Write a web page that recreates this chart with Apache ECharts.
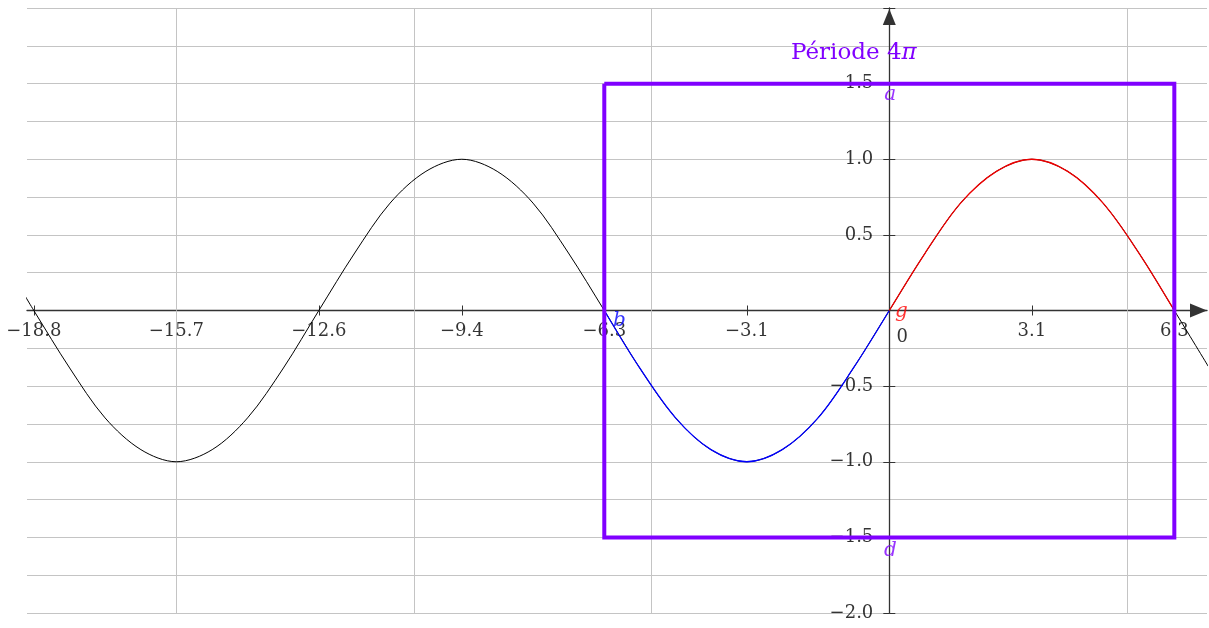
<!DOCTYPE html>
<html>
<head>
<meta charset="utf-8">
<script src="https://cdn.jsdelivr.net/npm/echarts@6/dist/echarts.min.js"></script>
<style>
  html, body { margin: 0; padding: 0; background: #fff; }
  #chart { width: 1209px; height: 628px; }
</style>
</head>
<body>
<div id="chart"></div>
<script>
// curve y = f(x)
var waveX = [-19.03, -18.85, -18.06, -17.28, -16.49, -15.71, -14.92, -14.14, -13.35, -12.57,
  -11.78, -11.00, -10.21, -9.42, -8.64, -7.85, -7.07, -6.28, -5.50, -4.71, -3.93, -3.14,
  -2.36, -1.57, -0.79, 0, 0.79, 1.57, 2.36, 3.14, 3.93, 4.71, 5.50, 6.28, 7.03];
var waveY = [0.09, 0, -0.38, -0.71, -0.92, -1, -0.92, -0.71, -0.38, 0,
  0.38, 0.71, 0.92, 1, 0.92, 0.71, 0.38, 0, -0.38, -0.71, -0.92, -1,
  -0.92, -0.71, -0.38, 0, 0.38, 0.71, 0.92, 1, 0.92, 0.71, 0.38, 0, -0.37];

var xTickValues = [-18.85, -15.71, -12.57, -9.42, -6.28, -3.14, 0, 3.14, 6.28];
var xTickLabels = ['−18.8', '−15.7', '−12.6', '−9.4', '−6.3', '−3.1', '0', '3.1', '6.3'];
var yLabelValues = [-2, -1.5, -1, -0.5, 0.5, 1, 1.5];
var yTickLabels = ['−2.0', '−1.5', '−1.0', '−0.5', '0.5', '1.0', '1.5'];
var gridX = [-15.71, -10.47, -5.24, 5.24];

var rectX = [-6.28, 6.28];
var rectY = [-1.5, 1.5];

var pointNames = ['a', 'd', 'b', 'g'];
var pointX = [0, 0, -6.28, 0];
var pointY = [1.5, -1.5, 0, 0];

var FONT = 'DejaVu Serif';
var VIOLET = '#8000ff';
var AXIS = '#333';
var GRID = '#c4c4c4';
var pointStyle = {
  a: { color: VIOLET, offset: [1, 11] },
  d: { color: VIOLET, offset: [1, 13] },
  b: { color: '#0000ff', offset: [15, 10] },
  g: { color: '#ff0000', offset: [12, 1] }
};

var wave = waveX.map(function (x, i) { return [x, waveY[i]]; });
var blue = wave.filter(function (p) { return p[0] >= rectX[0] && p[0] <= 0; });
var red = wave.filter(function (p) { return p[0] >= 0 && p[0] <= rectX[1]; });
var rect = [
  [rectX[0], rectY[1]], [rectX[1], rectY[1]], [rectX[1], rectY[0]],
  [rectX[0], rectY[0]], [rectX[0], rectY[1]]
];

var tickFont = { fontFamily: FONT, fontSize: 18, color: '#000' };

var option = {
  animation: false,
  backgroundColor: '#fff',
  title: {
    text: 'Période 4{pi|π}',
    left: 786,
    top: 37,
    textStyle: {
      fontFamily: FONT, fontSize: 23, fontWeight: 'normal', color: VIOLET,
      rich: { pi: { fontFamily: FONT, fontSize: 23, fontStyle: 'italic', color: VIOLET } }
    }
  },
  grid: { left: 27, right: 2, top: 8, bottom: 15, outerBoundsMode: 'none' },
  xAxis: [
    {
      type: 'value', min: -19, max: 7, position: 'bottom',
      axisLine: {
        onZero: true, onZeroAxisIndex: 0,
        symbol: ['none', 'triangle'], symbolSize: [14, 17], symbolOffset: [0, -8.5],
        lineStyle: { color: AXIS, width: 1.3 }
      },
      axisTick: { customValues: xTickValues, length: 5, lineStyle: { color: AXIS } },
      axisLabel: { show: false },
      splitLine: { show: false }
    },
    {
      type: 'value', min: -19, max: 7, position: 'top',
      axisLine: { show: false, onZero: true, onZeroAxisIndex: 0 },
      axisTick: { customValues: xTickValues, length: 5, lineStyle: { color: AXIS } },
      axisLabel: { show: false },
      splitLine: { show: false }
    }
  ],
  yAxis: [
    {
      type: 'value', min: -2, max: 2, interval: 0.5, position: 'left',
      axisLine: {
        onZero: true, onZeroAxisIndex: 0,
        symbol: ['none', 'triangle'], symbolSize: [13, 16], symbolOffset: [0, -9],
        lineStyle: { color: AXIS, width: 1.3 }
      },
      axisTick: { length: 6, lineStyle: { color: AXIS } },
      axisLabel: { show: false },
      splitLine: { show: false }
    },
    {
      type: 'value', min: -2, max: 2, interval: 0.5, position: 'right',
      axisLine: { show: false, onZero: true, onZeroAxisIndex: 0 },
      axisTick: { length: 6, lineStyle: { color: AXIS } },
      axisLabel: { show: false },
      splitLine: { show: false }
    },
    {
      type: 'value', min: -2, max: 2, interval: 0.25, position: 'left',
      axisLine: { show: false, onZero: false },
      axisTick: { show: false },
      axisLabel: { show: false },
      splitLine: { show: true, lineStyle: { color: GRID, width: 1 } }
    }
  ],
  series: [
    {
      type: 'line', data: wave, smooth: 0.33, symbol: 'none', z: 2,
      lineStyle: { color: '#000', width: 1 },
      markLine: {
        z: 1, silent: true, symbol: ['none', 'none'], label: { show: false },
        lineStyle: { type: 'solid', color: GRID, width: 1 },
        emphasis: { disabled: true },
        data: gridX.map(function (v) { return { xAxis: v }; })
      }
    },
    {
      type: 'line', data: blue, smooth: 0.33, symbol: 'none', z: 3,
      lineStyle: { color: '#0000ff', width: 1.3 }
    },
    {
      type: 'line', data: red, smooth: 0.33, symbol: 'none', z: 3,
      lineStyle: { color: '#ee0000', width: 1.3 }
    },
    {
      type: 'line', data: rect, symbol: 'none', z: 4,
      lineStyle: { color: VIOLET, width: 4, join: 'miter' }
    },
    {
      // x tick labels, placed under the axis at y = 0
      type: 'scatter', symbolSize: 0, z: 1.5, silent: true,
      data: xTickValues.map(function (v, i) {
        return {
          value: [v, 0],
          label: Object.assign({
            show: true, position: 'bottom', distance: 12,
            formatter: xTickLabels[i],
            offset: v === 0 ? [13, 6] : [0, 0]
          }, tickFont)
        };
      })
    },
    {
      // y tick labels, placed left of the axis at x = 0
      type: 'scatter', symbolSize: 0, z: 1.5, silent: true,
      data: yLabelValues.map(function (v, i) {
        return {
          value: [0, v],
          label: Object.assign({
            show: true, position: 'left', distance: 16,
            formatter: yTickLabels[i]
          }, tickFont)
        };
      })
    },
    {
      type: 'scatter', symbolSize: 0, z: 6, silent: true,
      data: pointNames.map(function (n, i) {
        return {
          value: [pointX[i], pointY[i]],
          label: {
            show: true, position: 'inside', formatter: n,
            offset: pointStyle[n].offset, color: pointStyle[n].color,
            fontFamily: FONT, fontSize: 20, fontStyle: 'italic'
          }
        };
      })
    }
  ]
};

var myChart = echarts.init(document.getElementById('chart'));
myChart.setOption(option);
window.addEventListener('resize', function () {
  myChart.resize();
});
</script>
</body>
</html>
